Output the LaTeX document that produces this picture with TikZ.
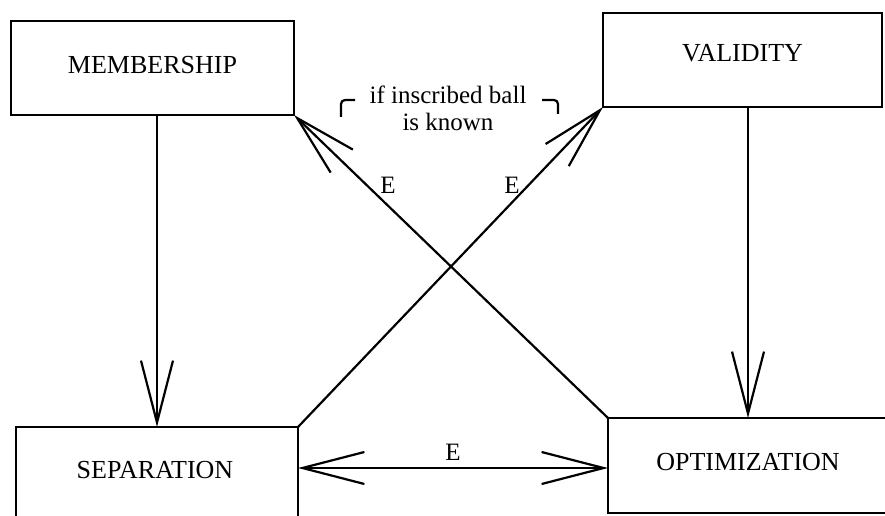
\documentclass[tikz,border=0pt]{standalone}
\usepackage{fontspec}
\setmainfont{Liberation Serif}
\usetikzlibrary{arrows.meta}

\tikzset{
  boxnode/.style={draw, line width=2pt, rectangle, inner sep=0pt, outer sep=0pt,
    font=\fontsize{26}{28}\selectfont},
  conn/.style={line width=2.2pt},
  head/.style={-{Straight Barb[length=62pt,width=32pt,line width=2.2pt]}},
  bothheads/.style={{Straight Barb[length=62pt,width=32pt,line width=2.2pt]}-{Straight Barb[length=62pt,width=32pt,line width=2.2pt]}},
  lbl/.style={font=\fontsize{25}{27}\selectfont, inner sep=0pt},
  bracket/.style={line width=2.2pt, rounded corners=4pt}
}

\begin{document}
\begin{tikzpicture}[x=1pt, y=-1pt]
  % page frame
  \useasboundingbox (0,0) rectangle (885,516);
  \clip (0,0) rectangle (885,516);

  % the four problem boxes
  \node[boxnode, minimum width=283pt, minimum height=94pt,
        label={[font=\fontsize{26}{28}\selectfont, yshift=3pt]center:MEMBERSHIP}]
        (mem) at (152.5,68) {};
  \node[boxnode, minimum width=279pt, minimum height=94pt,
        label={[font=\fontsize{26}{28}\selectfont, yshift=7pt]center:VALIDITY}]
        (val) at (742.5,60) {};
  \node[boxnode, minimum width=282pt, minimum height=103pt,
        label={[font=\fontsize{26}{28}\selectfont, yshift=8.5pt, xshift=-2pt]center:SEPARATION}]
        (sep) at (157,478.5) {};
  \node[boxnode, minimum width=287pt, minimum height=95pt,
        label={[font=\fontsize{26}{28}\selectfont, yshift=3.5pt, xshift=-3.5pt]center:OPTIMIZATION}]
        (opt) at (751.5,465.5) {};

  % vertical implications
  \draw[conn, head] (mem.south -| 157,0) -- (sep.north -| 157,0);
  \draw[conn, head] (val.south -| 748,0) -- (opt.north -| 748,0);

  % crossing diagonals
  \draw[conn, head] (sep.north east) -- (val.south west);
  \draw[conn, head] (opt.north west) -- (mem.south east);

  % equivalence between separation and optimization
  \draw[conn, bothheads] (sep.east |- 0,468) -- (opt.west |- 0,468);

  % edge labels
  \node[lbl] (e1) at (388,185) {E};
  \node[lbl] (e2) at (512,185) {E};
  \node[lbl] (e3) at (453,452) {E};

  % condition note with its corner brackets
  \node[lbl, align=center] (note) at (448,108) {if inscribed ball\\is known};
  \draw[bracket] (355,100) -| (341,117);
  \draw[bracket] (542,100) -| (558,114);
\end{tikzpicture}
\end{document}
